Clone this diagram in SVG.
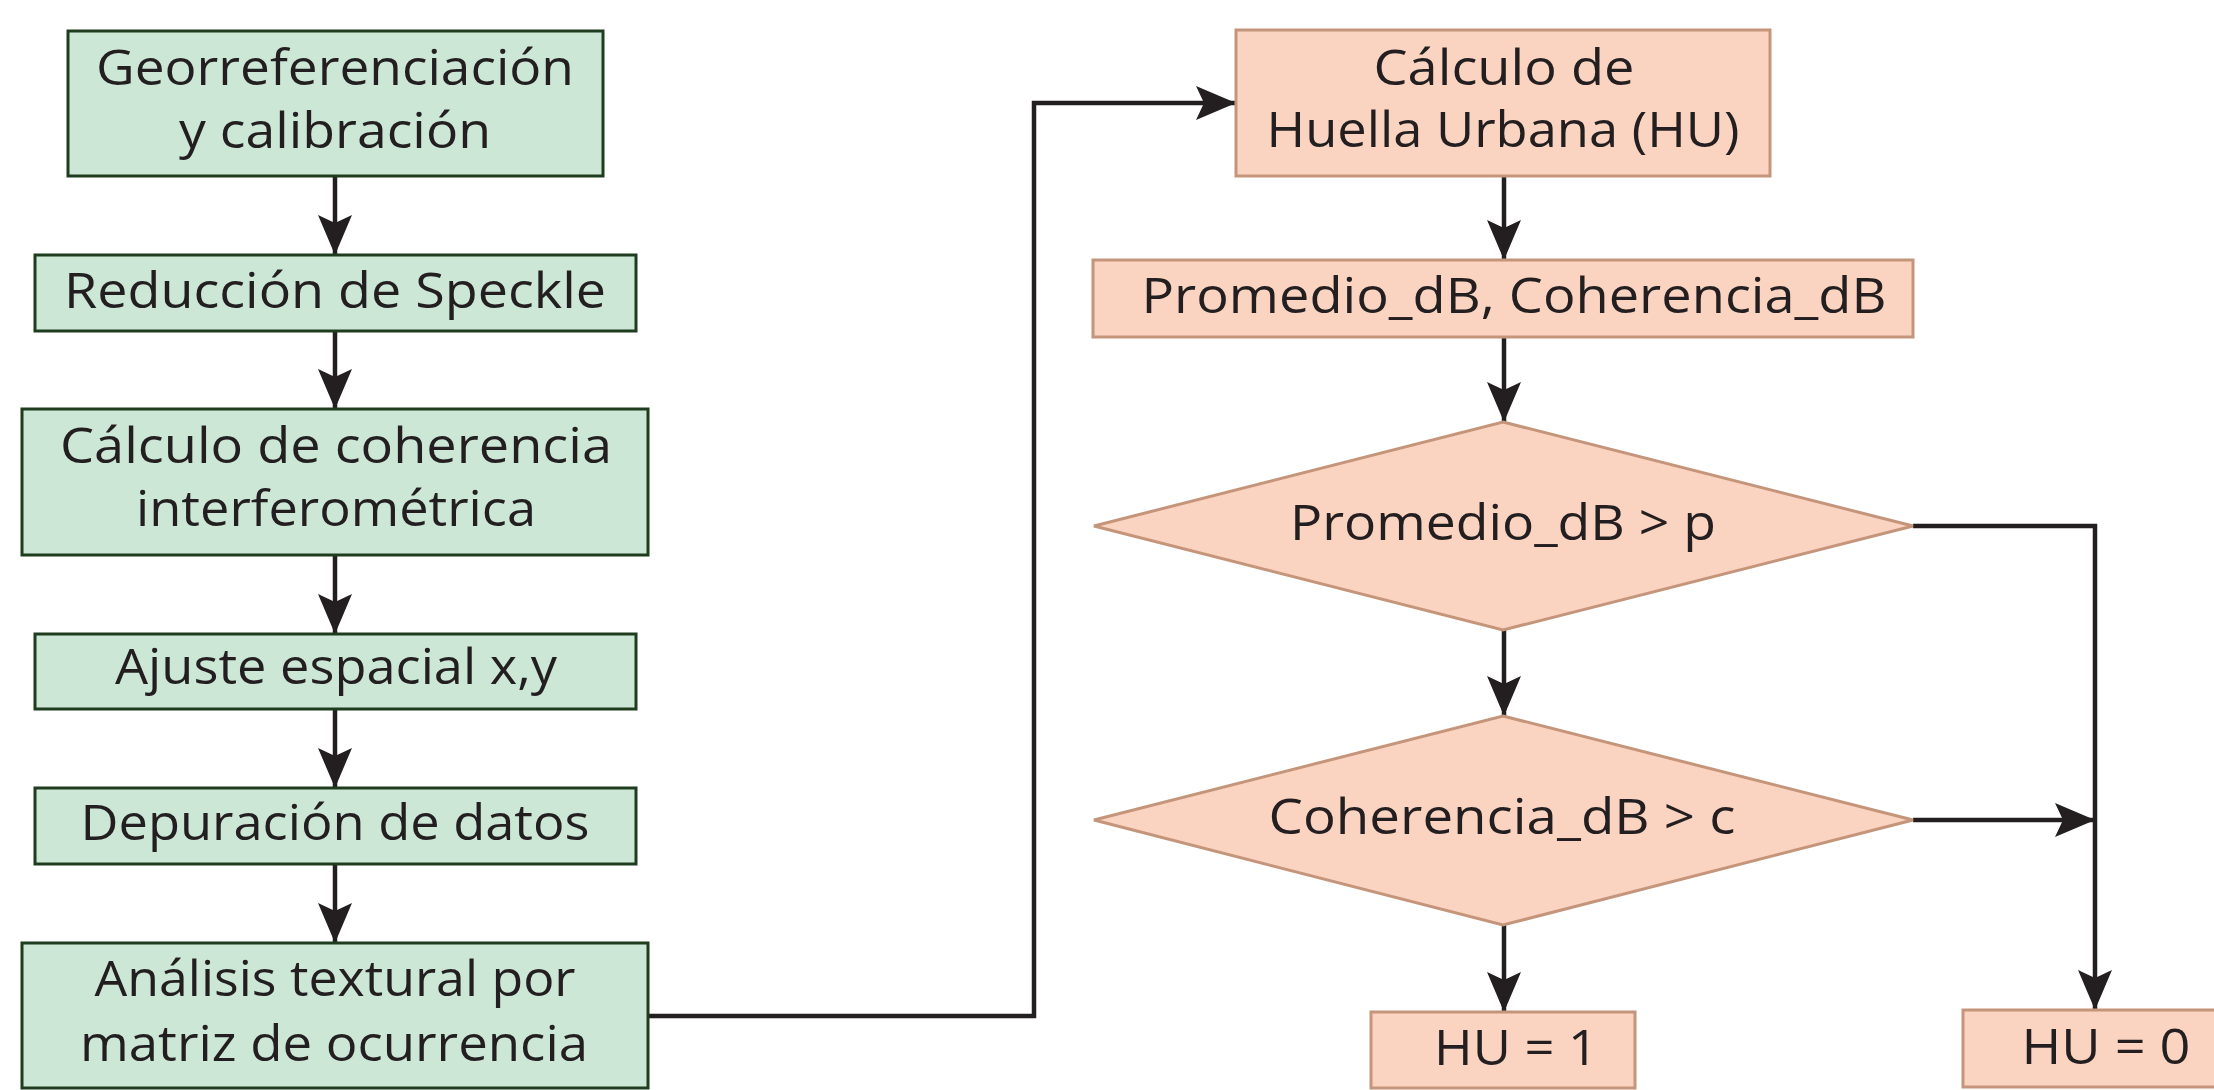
<svg xmlns="http://www.w3.org/2000/svg" width="2214" height="1090" viewBox="0 0 2214 1090">
<defs>
<style>
.g{fill:#cde7d7;stroke:#1e3d1e;stroke-width:3}
.p{fill:#fbd3c1;stroke:#c4957a;stroke-width:3}
text{font-family:"Open Sans",Lato,sans-serif;font-size:49px;fill:#231f20;text-anchor:middle}
.c{fill:none;stroke:#231f20;stroke-width:4.5}
</style>
<marker id="ah" markerUnits="userSpaceOnUse" viewBox="-44 -20 46 40" refX="0" refY="0" markerWidth="46" markerHeight="40" orient="auto">
<path d="M0,0 L-40,-17 L-32,0 L-40,17 Z" fill="#231f20"/>
</marker>
</defs>
<rect width="2214" height="1090" fill="#ffffff"/>
<g id="connectors">
<path class="c" d="M335,176 V255" marker-end="url(#ah)"/>
<path class="c" d="M335,331 V409" marker-end="url(#ah)"/>
<path class="c" d="M335,555 V634" marker-end="url(#ah)"/>
<path class="c" d="M335,709 V788" marker-end="url(#ah)"/>
<path class="c" d="M335,864 V943" marker-end="url(#ah)"/>
<path class="c" d="M648,1016 H1034 V103 H1236" marker-end="url(#ah)"/>
<path class="c" d="M1504,176 V260" marker-end="url(#ah)"/>
<path class="c" d="M1504,337 V422" marker-end="url(#ah)"/>
<path class="c" d="M1913,526 H2095 V1010" marker-end="url(#ah)"/>
<path class="c" d="M1504,630 V716" marker-end="url(#ah)"/>
<path class="c" d="M1913,820 H2095" marker-end="url(#ah)"/>
<path class="c" d="M1504,925 V1012" marker-end="url(#ah)"/>
</g>
<g id="n1"><rect class="g" x="68" y="31" width="535" height="145"/><text x="335" y="85" textLength="478" lengthAdjust="spacingAndGlyphs">Georreferenciación</text><text x="335" y="148" textLength="312" lengthAdjust="spacingAndGlyphs">y calibración</text></g>
<g id="n2"><rect class="g" x="35" y="255" width="601" height="76"/><text x="335" y="308" textLength="542" lengthAdjust="spacingAndGlyphs">Reducción de Speckle</text></g>
<g id="n3"><rect class="g" x="22" y="409" width="626" height="146"/><text x="336" y="463" textLength="552" lengthAdjust="spacingAndGlyphs">Cálculo de coherencia</text><text x="336" y="526" textLength="400" lengthAdjust="spacingAndGlyphs">interferométrica</text></g>
<g id="n4"><rect class="g" x="35" y="634" width="601" height="75"/><text x="336" y="684" textLength="442" lengthAdjust="spacingAndGlyphs">Ajuste espacial x,y</text></g>
<g id="n5"><rect class="g" x="35" y="788" width="601" height="76"/><text x="335" y="840" textLength="509" lengthAdjust="spacingAndGlyphs">Depuración de datos</text></g>
<g id="n6"><rect class="g" x="22" y="943" width="626" height="145"/><text x="335" y="996" textLength="481" lengthAdjust="spacingAndGlyphs">Análisis textural por</text><text x="334" y="1061" textLength="508" lengthAdjust="spacingAndGlyphs">matriz de ocurrencia</text></g>
<g id="n7"><rect class="p" x="1236" y="30" width="534" height="146"/><text x="1504" y="85" textLength="261" lengthAdjust="spacingAndGlyphs">Cálculo de</text><text x="1503" y="147" textLength="473" lengthAdjust="spacingAndGlyphs">Huella Urbana (HU)</text></g>
<g id="n8"><rect class="p" x="1093" y="260" width="820" height="77"/><text x="1514" y="313" textLength="745" lengthAdjust="spacingAndGlyphs">Promedio_dB, Coherencia_dB</text></g>
<g id="n9"><polygon class="p" points="1503,422 1913,526 1503,630 1094,526"/><text x="1503" y="540" textLength="426" lengthAdjust="spacingAndGlyphs">Promedio_dB &gt; p</text></g>
<g id="n10"><polygon class="p" points="1503,716 1913,820 1503,925 1094,820"/><text x="1502" y="834" textLength="467" lengthAdjust="spacingAndGlyphs">Coherencia_dB &gt; c</text></g>
<g id="n11"><rect class="p" x="1371" y="1012" width="264" height="76"/><text x="1516" y="1065" textLength="164" lengthAdjust="spacingAndGlyphs">HU = 1</text></g>
<g id="n12"><rect class="p" x="1963" y="1010" width="270" height="77"/><text x="2106" y="1064" textLength="169" lengthAdjust="spacingAndGlyphs">HU = 0</text></g>
</svg>
